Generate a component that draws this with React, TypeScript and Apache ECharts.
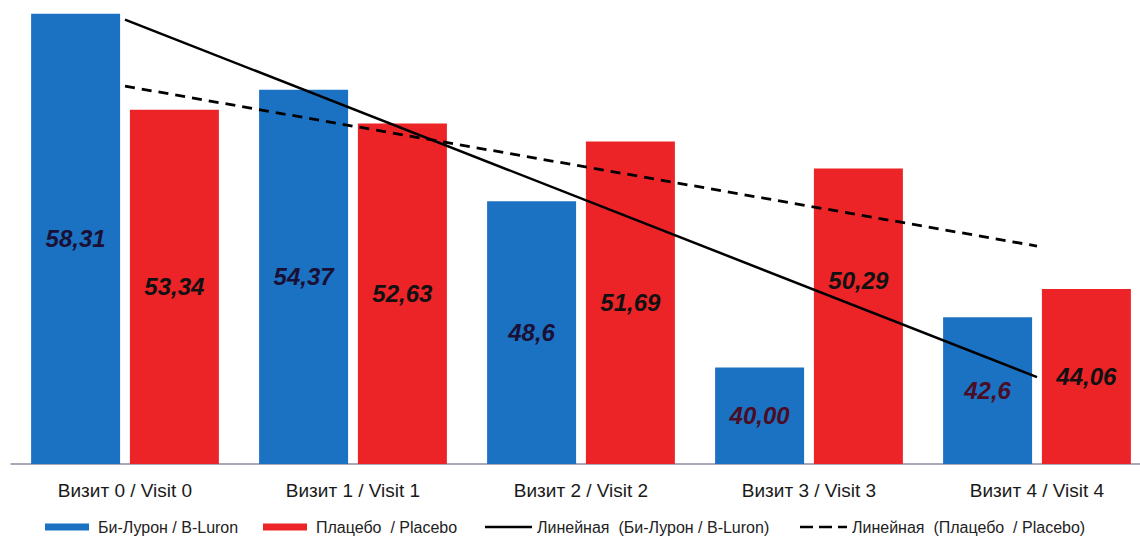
import React, { useEffect, useRef } from "react";
import * as echarts from "echarts";

// Visits on the category axis
const visits = [
  "Визит 0 / Visit 0",
  "Визит 1 / Visit 1",
  "Визит 2 / Visit 2",
  "Визит 3 / Visit 3",
  "Визит 4 / Visit 4",
];

// Mean scores per visit
const bLuronValues = [58.31, 54.37, 48.6, 40.0, 42.6];
const placeboValues = [53.34, 52.63, 51.69, 50.29, 44.06];

// Printed value labels (decimal comma)
const bLuronLabels = ["58,31", "54,37", "48,6", "40,00", "42,6"];
const placeboLabels = ["53,34", "52,63", "51,69", "50,29", "44,06"];

// Linear trend endpoints (first and last visit)
const bLuronTrend = [58.0, 39.5];
const placeboTrend = [54.56, 46.28];

const NB = "\u00a0";
const seriesNames = [
  "Би-Лурон / B-Luron",
  `Плацебо${NB}${NB}/ Placebo`,
  `Линейная${NB}${NB}(Би-Лурон / B-Luron)`,
  `Линейная${NB}${NB}(Плацебо${NB}${NB}/ Placebo)`,
];

const BLUE = "#1b72c2";
const RED = "#ec2428";

// Legend glyphs for the trend lines
const SOLID_ICON = "path://M0,0H47V2.6H0Z";
const DASHED_ICON = "path://M0,0H13V2.6H0ZM19,0H32V2.6H19ZM38,0H47V2.6H38Z";

export default function App() {
  const ref = useRef<HTMLDivElement>(null);

  useEffect(() => {
    if (!ref.current) return;
    const chart = echarts.init(ref.current, null, { renderer: "svg" });

    const labelFont = {
      fontFamily: "Liberation Sans, Arial, sans-serif",
      fontSize: 24,
      fontWeight: "bold" as const,
      fontStyle: "italic" as const,
    };

    const legendText = {
      fontFamily: "Liberation Sans, Arial, sans-serif",
      fontSize: 16,
      color: "#222222",
    };

    const legendAt = (name: string, left: number, icon: string, width: number, pad: number) => ({
      top: 519,
      left,
      padding: 0,
      itemWidth: width,
      itemHeight: 7,
      symbolKeepAspect: true,
      data: [{ name, icon, itemStyle: icon === "rect" ? undefined : { color: "#000" } }],
      textStyle: { ...legendText, padding: [0, 0, 0, pad] },
    });

    const blueData = bLuronValues.map((v, i) => ({
      value: v,
      label: {
        formatter: bLuronLabels[i],
        color: i >= 3 ? "#4a0d25" : "#1a1035",
      },
    }));
    const redData = placeboValues.map((v, i) => ({
      value: v,
      label: {
        formatter: placeboLabels[i],
        color: "#111111",
        offset: i === 3 ? [0, -36] : [0, 0],
      },
    }));

    chart.setOption({
      animation: false,
      backgroundColor: "#ffffff",
      grid: { left: 11, top: 10, width: 1140, bottom: 73, containLabel: false },
      legend: [
        legendAt(seriesNames[0], 45, "rect", 44, 4),
        legendAt(seriesNames[1], 263, "rect", 44, 4),
        legendAt(seriesNames[2], 485, SOLID_ICON, 47, 0),
        legendAt(seriesNames[3], 800, DASHED_ICON, 47, 0),
      ],
      xAxis: {
        type: "category",
        data: visits,
        boundaryGap: true,
        axisTick: { show: false },
        axisLine: { lineStyle: { color: "#8c8ca4", width: 1.5 } },
        axisLabel: {
          margin: 17,
          fontFamily: "Liberation Sans, Arial, sans-serif",
          fontSize: 19,
          color: "#1a1a1a",
          interval: 0,
        },
      },
      yAxis: {
        type: "value",
        min: 35,
        max: 58.5,
        show: false,
        splitLine: { show: false },
      },
      series: [
        {
          name: seriesNames[0],
          type: "bar",
          data: blueData,
          barWidth: 89,
          barGap: "11%",
          itemStyle: { color: BLUE },
          label: { show: true, position: "inside", ...labelFont },
          z: 2,
        },
        {
          name: seriesNames[1],
          type: "bar",
          data: redData,
          barWidth: 89,
          barGap: "11%",
          itemStyle: { color: RED },
          label: { show: true, position: "inside", ...labelFont },
          z: 2,
        },
        {
          name: seriesNames[2],
          type: "line",
          data: [
            [0, bLuronTrend[0]],
            [4, bLuronTrend[1]],
          ],
          symbol: "none",
          lineStyle: { color: "#000000", width: 2.5, type: "solid" },
          itemStyle: { color: "#000000" },
          z: 3,
        },
        {
          name: seriesNames[3],
          type: "line",
          data: [
            [0, placeboTrend[0]],
            [4, placeboTrend[1]],
          ],
          symbol: "none",
          lineStyle: { color: "#000000", width: 2.8, type: [10, 7] },
          itemStyle: { color: "#000000" },
          z: 3,
        },
      ],
    });

    return () => chart.dispose();
  }, []);

  return (
    <div
      style={{
        position: "fixed",
        left: 0,
        top: 0,
        width: 1140,
        height: 537,
        overflow: "hidden",
        background: "#fff",
      }}
    >
      <div ref={ref} style={{ width: 1170, height: 537 }} />
    </div>
  );
}
